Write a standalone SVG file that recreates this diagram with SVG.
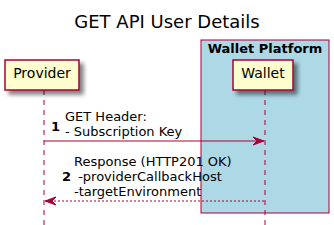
<svg xmlns="http://www.w3.org/2000/svg" width="334" height="225" viewBox="0 0 334 225">
<defs>
<filter id="sh" x="-20%" y="-20%" width="150%" height="160%">
<feGaussianBlur in="SourceAlpha" stdDeviation="2"/>
<feOffset dx="4" dy="4" result="b"/>
<feComponentTransfer><feFuncA type="linear" slope="0.5"/></feComponentTransfer>
<feMerge><feMergeNode/><feMergeNode in="SourceGraphic"/></feMerge>
</filter>
</defs>
<style>
text{font-family:"DejaVu Sans",sans-serif;fill:#000}
.p{fill:#FEFECE;stroke:#A80036;stroke-width:1.5}
.ll{stroke:#A80036;stroke-width:1;stroke-dasharray:5,5}
.msg{font-size:13px}
.num{font-size:13px;font-weight:bold}
.a{stroke:#A80036;stroke-width:1;fill:none}
.ah{fill:#A80036;stroke:#A80036}
</style>
<text x="167" y="28" font-size="18" text-anchor="middle">GET API User Details</text>
<g id="wallet-platform">
<rect x="201" y="40" width="128" height="173" fill="#ADD8E6" stroke="#A80036" stroke-width="1"/>
<text x="265" y="53" font-size="13" font-weight="bold" text-anchor="middle">Wallet Platform</text>
</g>
<g id="lifelines">
<line class="ll" x1="44" y1="90" x2="44" y2="225"/>
<line class="ll" x1="265" y1="90" x2="265" y2="225"/>
</g>
<g id="provider">
<rect class="p" x="5" y="60" width="74" height="30" filter="url(#sh)"/>
<text x="42" y="78" font-size="14" text-anchor="middle">Provider</text>
</g>
<g id="wallet">
<rect class="p" x="233" y="60" width="60" height="30" filter="url(#sh)"/>
<text x="263" y="78" font-size="14" text-anchor="middle">Wallet</text>
</g>
<g id="connectors">
<g id="m1">
<line class="a" x1="44" y1="141" x2="263" y2="141"/>
<polygon class="ah" points="253,137 264,141 253,145 257,141"/>
<text class="num" x="51" y="131">1</text>
<text class="msg" x="65" y="121">GET Header:</text>
<text class="msg" x="65" y="136">- Subscription Key</text>
</g>
<g id="m2">
<line class="a" x1="46" y1="201" x2="265" y2="201" stroke-dasharray="2,2"/>
<polygon class="ah" points="56,197 45,201 56,205 52,201"/>
<text class="num" x="62" y="181">2</text>
<text class="msg" x="74" y="166">Response (HTTP201 OK)</text>
<text class="msg" x="74" y="181" xml:space="preserve"> -providerCallbackHost</text>
<text class="msg" x="74" y="196">-targetEnvironment</text>
</g>
</g>
</svg>
